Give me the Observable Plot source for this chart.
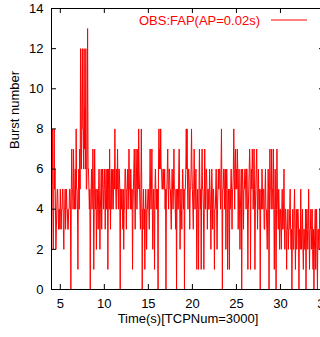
<!DOCTYPE html>
<html><head><meta charset="utf-8">
<script src="https://cdn.jsdelivr.net/npm/d3@7"></script>
<script src="https://cdn.jsdelivr.net/npm/@observablehq/plot@0.6"></script>
<style>
html,body{margin:0;padding:0;background:#fff;overflow:hidden;width:320px;height:337px}
#chart{width:320px;height:337px;overflow:hidden}
#chart svg{max-width:none !important;height:337px !important}
</style></head><body><div id="chart"></div>
<script>
const seriesName = "OBS:FAP(AP=0.02s)";
const xLabel = "Time(s)[TCPNum=3000]";
const yLabel = "Burst number";
const xTicks = [5, 10, 15, 20, 25, 30, 35];
const yTicks = [0, 2, 4, 6, 8, 10, 12, 14];
const xDomain = [4, 35];
const yDomain = [0, 14];
// sampling of the series: start time and step (s)
const t0 = 4.0, dt = 0.05;
const burst = [
  8,6,8,4,2,4,8,5,6,4,2,3,4,5,5,4,3,4,4,3,
  5,4,3,4,4,5,5,3,2,4,4,5,3,4,5,4,4,3,3,4,
  4,5,5,4,0,5,7,5,5,4,7,5,4,5,6,4,8,5,5,4,
  1,5,6,4,7,5,12,7,6,9,12,8,8,6,12,7,9,6,12,5,
  5,7,13,6,6,5,4,5,0,4,5,6,4,5,7,5,1,4,7,5,
  4,5,2,4,5,4,3,5,6,4,2,4,5,6,3,5,6,5,4,5,
  6,5,3,5,6,4,5,6,1,5,6,4,7,5,3,5,6,4,5,6,
  4,5,6,5,8,5,5,4,6,5,7,5,4,6,6,5,0,5,5,4,
  5,4,3,5,2,4,4,6,6,5,3,5,5,6,4,5,7,5,5,4,
  6,5,4,5,1,4,5,6,7,5,3,5,7,6,4,5,7,5,8,6,
  5,4,3,5,8,5,0,4,4,5,3,4,1,4,5,4,2,4,4,5,
  5,4,3,5,7,5,4,5,7,4,2,4,5,4,1,5,6,5,4,5,
  4,5,0,6,8,6,7,6,8,6,6,5,5,6,6,5,5,6,4,5,
  0,5,5,6,7,5,4,6,6,5,5,4,3,5,6,5,4,5,7,5,
  5,4,3,5,0,5,5,4,4,6,7,5,2,4,5,4,3,5,6,5,
  4,5,0,5,5,6,8,6,8,5,4,6,6,5,3,5,5,6,8,6,
  5,4,3,5,7,5,4,5,6,4,1,4,5,4,1,5,7,5,4,5,
  1,5,7,5,5,4,1,4,7,5,4,6,6,5,3,5,5,4,4,6,
  5,4,2,4,6,5,3,5,5,4,1,4,4,5,6,4,2,4,5,6,
  5,6,6,5,4,6,8,5,0,5,5,6,6,4,5,6,2,5,6,5,
  1,4,5,4,1,5,4,5,6,5,3,5,5,6,8,6,4,6,7,5,
  6,5,7,6,3,5,6,4,2,4,5,6,0,5,6,5,3,5,5,6,
  6,5,4,6,6,4,1,4,5,6,7,6,1,5,6,5,7,6,4,5,
  7,5,1,4,5,6,7,5,3,5,6,4,4,5,0,4,5,4,6,5,
  4,5,5,3,3,5,6,4,4,3,2,4,6,5,0,4,7,5,5,4,
  7,5,5,4,7,4,1,4,6,4,0,4,7,5,4,3,5,4,2,4,
  4,3,2,4,5,3,3,4,6,3,2,4,4,3,1,3,3,4,2,3,
  3,4,5,3,2,3,0,3,4,2,2,4,5,3,1,3,4,2,3,4,
  4,3,0,3,3,2,5,3,2,3,4,2,1,3,3,2,2,4,0,3,
  4,3,2,3,5,3,1,3,3,4,2,3,4,2,1,3,0,2,3,4,
  1,3,4,2,0,3,3,2,2,4,4,3,1,2,3,4,2,3,3,2
];
const data = burst.map((v, i) => ({t: +(t0 + i * dt).toFixed(3), v}));

const W = 330, H = 337, mL = 51, mR = 6, mT = 8, mB = 48;
const innerW = W - mL - mR, innerH = H - mT - mB;
const tick = 5;
const red = "#ff0000";

const legend = (index, scales, values, dims) => {
  const x2 = dims.width - dims.marginRight - 17;
  const y = dims.marginTop + 12;
  const g = d3.create("svg:g");
  g.append("line").attr("x1", x2 - 36).attr("x2", x2).attr("y1", y).attr("y2", y)
    .attr("stroke", red).attr("stroke-width", 1);
  g.append("text").attr("x", x2 - 47).attr("y", y).attr("dy", "0.35em")
    .attr("text-anchor", "end").attr("fill", red)
    .attr("font-size", 13).text(seriesName);
  return g.node();
};

const chart = Plot.plot({
  width: W, height: H,
  marginLeft: mL, marginRight: mR, marginTop: mT, marginBottom: mB,
  x: {domain: xDomain},
  y: {domain: yDomain},
  style: {fontFamily: "'Liberation Sans', Arial, Helvetica, sans-serif", fontSize: "13px", background: "white", color: "black", maxWidth: "none"},
  marks: [
    Plot.line(data, {x: "t", y: "v", stroke: red, strokeWidth: 1}),
    Plot.ruleX(xTicks, {x: d => d, insetTop: innerH - tick, stroke: "black"}),
    Plot.ruleX(xTicks, {x: d => d, insetBottom: innerH - tick, stroke: "black"}),
    Plot.ruleY(yTicks, {y: d => d, insetRight: innerW - tick, stroke: "black"}),
    Plot.ruleY(yTicks, {y: d => d, insetLeft: innerW - tick, stroke: "black"}),
    Plot.frame({stroke: "black"}),
    Plot.axisX(xTicks, {anchor: "bottom", tickSize: 0, tickPadding: 9, label: null, fontSize: 13}),
    Plot.axisY(yTicks, {anchor: "left", tickSize: 0, tickPadding: 8, label: null, fontSize: 13}),
    Plot.text([yLabel], {frameAnchor: "left", dx: -37, rotate: -90, fontSize: 13}),
    Plot.text([xLabel], {frameAnchor: "bottom", dy: 33, fontSize: 13}),
    legend
  ]
});
chart.style.maxWidth = "none";
chart.setAttribute("width", W);
chart.setAttribute("height", H);
chart.style.height = H + "px";
document.getElementById("chart").appendChild(chart);
</script>
</body></html>
